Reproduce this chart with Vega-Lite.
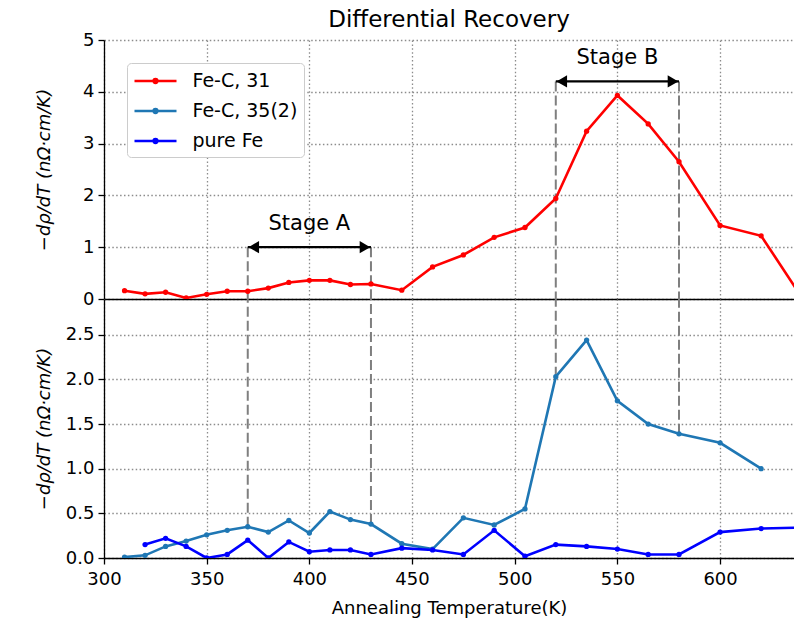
{
  "$schema": "https://vega.github.io/schema/vega-lite/v6.json",
  "autosize": {"type": "none"},
  "padding": {"left": 104, "top": 40, "right": 690, "bottom": 583},
  "bounds": "flush",
  "config": {
    "font": "DejaVu Sans",
    "view": {"stroke": null},
    "axis": {
      "domainColor": "black", "domainWidth": 1.3,
      "tickColor": "black", "tickWidth": 1.3, "tickSize": 6,
      "labelFontSize": 18, "labelColor": "black", "labelPadding": 4, "labelFlush": false,
      "titleFontSize": 18, "titleColor": "black", "titleFontWeight": "normal",
      "gridColor": "#8c8c8c", "gridDash": [1.5, 2.4], "gridWidth": 1.3, "gridOpacity": 1
    },
    "title": {"fontSize": 23, "fontWeight": "normal", "color": "black", "font": "DejaVu Sans"}
  },
  "datasets": {
    "curves": [
      {"series": "Fe-C, 31", "T": 310, "v": 0.16},
      {"series": "Fe-C, 31", "T": 320, "v": 0.10},
      {"series": "Fe-C, 31", "T": 330, "v": 0.13},
      {"series": "Fe-C, 31", "T": 340, "v": 0.02},
      {"series": "Fe-C, 31", "T": 350, "v": 0.09},
      {"series": "Fe-C, 31", "T": 360, "v": 0.15},
      {"series": "Fe-C, 31", "T": 370, "v": 0.15},
      {"series": "Fe-C, 31", "T": 380, "v": 0.21},
      {"series": "Fe-C, 31", "T": 390, "v": 0.32},
      {"series": "Fe-C, 31", "T": 400, "v": 0.36},
      {"series": "Fe-C, 31", "T": 410, "v": 0.36},
      {"series": "Fe-C, 31", "T": 420, "v": 0.28},
      {"series": "Fe-C, 31", "T": 430, "v": 0.29},
      {"series": "Fe-C, 31", "T": 445, "v": 0.17},
      {"series": "Fe-C, 31", "T": 460, "v": 0.62},
      {"series": "Fe-C, 31", "T": 475, "v": 0.85},
      {"series": "Fe-C, 31", "T": 490, "v": 1.19},
      {"series": "Fe-C, 31", "T": 505, "v": 1.38},
      {"series": "Fe-C, 31", "T": 520, "v": 1.94},
      {"series": "Fe-C, 31", "T": 535, "v": 3.24},
      {"series": "Fe-C, 31", "T": 550, "v": 3.93},
      {"series": "Fe-C, 31", "T": 565, "v": 3.38},
      {"series": "Fe-C, 31", "T": 580, "v": 2.65},
      {"series": "Fe-C, 31", "T": 600, "v": 1.42},
      {"series": "Fe-C, 31", "T": 620, "v": 1.22},
      {"series": "Fe-C, 31", "T": 640, "v": 0.02},
      {"series": "Fe-C, 35(2)", "T": 310, "v": 0.01},
      {"series": "Fe-C, 35(2)", "T": 320, "v": 0.03},
      {"series": "Fe-C, 35(2)", "T": 330, "v": 0.13},
      {"series": "Fe-C, 35(2)", "T": 340, "v": 0.19},
      {"series": "Fe-C, 35(2)", "T": 350, "v": 0.26},
      {"series": "Fe-C, 35(2)", "T": 360, "v": 0.31},
      {"series": "Fe-C, 35(2)", "T": 370, "v": 0.35},
      {"series": "Fe-C, 35(2)", "T": 380, "v": 0.29},
      {"series": "Fe-C, 35(2)", "T": 390, "v": 0.42},
      {"series": "Fe-C, 35(2)", "T": 400, "v": 0.28},
      {"series": "Fe-C, 35(2)", "T": 410, "v": 0.52},
      {"series": "Fe-C, 35(2)", "T": 420, "v": 0.43},
      {"series": "Fe-C, 35(2)", "T": 430, "v": 0.38},
      {"series": "Fe-C, 35(2)", "T": 445, "v": 0.16},
      {"series": "Fe-C, 35(2)", "T": 460, "v": 0.10},
      {"series": "Fe-C, 35(2)", "T": 475, "v": 0.45},
      {"series": "Fe-C, 35(2)", "T": 490, "v": 0.37},
      {"series": "Fe-C, 35(2)", "T": 505, "v": 0.55},
      {"series": "Fe-C, 35(2)", "T": 520, "v": 2.03},
      {"series": "Fe-C, 35(2)", "T": 535, "v": 2.44},
      {"series": "Fe-C, 35(2)", "T": 550, "v": 1.76},
      {"series": "Fe-C, 35(2)", "T": 565, "v": 1.50},
      {"series": "Fe-C, 35(2)", "T": 580, "v": 1.39},
      {"series": "Fe-C, 35(2)", "T": 600, "v": 1.29},
      {"series": "Fe-C, 35(2)", "T": 620, "v": 1.00},
      {"series": "pure Fe", "T": 320, "v": 0.15},
      {"series": "pure Fe", "T": 330, "v": 0.22},
      {"series": "pure Fe", "T": 340, "v": 0.13},
      {"series": "pure Fe", "T": 350, "v": 0.00},
      {"series": "pure Fe", "T": 360, "v": 0.04},
      {"series": "pure Fe", "T": 370, "v": 0.20},
      {"series": "pure Fe", "T": 380, "v": 0.00},
      {"series": "pure Fe", "T": 390, "v": 0.18},
      {"series": "pure Fe", "T": 400, "v": 0.07},
      {"series": "pure Fe", "T": 410, "v": 0.09},
      {"series": "pure Fe", "T": 420, "v": 0.09},
      {"series": "pure Fe", "T": 430, "v": 0.04},
      {"series": "pure Fe", "T": 445, "v": 0.11},
      {"series": "pure Fe", "T": 460, "v": 0.09},
      {"series": "pure Fe", "T": 475, "v": 0.04},
      {"series": "pure Fe", "T": 490, "v": 0.31},
      {"series": "pure Fe", "T": 505, "v": 0.02},
      {"series": "pure Fe", "T": 520, "v": 0.15},
      {"series": "pure Fe", "T": 535, "v": 0.13},
      {"series": "pure Fe", "T": 550, "v": 0.10},
      {"series": "pure Fe", "T": 565, "v": 0.04},
      {"series": "pure Fe", "T": 580, "v": 0.04},
      {"series": "pure Fe", "T": 600, "v": 0.29},
      {"series": "pure Fe", "T": 620, "v": 0.33},
      {"series": "pure Fe", "T": 640, "v": 0.34}
    ],
    "stages": [
      {"stage": "Stage A", "from": 370, "to": 430, "mid": 400, "level": 1.0, "labelLevel": 1.45},
      {"stage": "Stage B", "from": 520, "to": 580, "mid": 550, "level": 4.2, "labelLevel": 4.65}
    ],
    "connectors": [
      {"T": 370, "upper": 1.0, "lower": 0.35},
      {"T": 430, "upper": 1.0, "lower": 0.38},
      {"T": 520, "upper": 4.2, "lower": 2.03},
      {"T": 580, "upper": 4.2, "lower": 1.39}
    ]
  },
  "spacing": 0,
  "resolve": {"scale": {"x": "shared", "y": "independent", "color": "shared"}},
  "vconcat": [
    {
      "width": 690,
      "height": 259,
      "title": {"text": "Differential Recovery", "anchor": "middle", "frame": "group", "offset": -1},
      "layer": [
        {
          "data": {"name": "connectors"},
          "mark": {"type": "rule", "color": "#7f7f7f", "strokeWidth": 2, "strokeDash": [10, 4]},
          "encoding": {
            "x": {"field": "T", "type": "quantitative",
                  "scale": {"domain": [300, 636], "nice": false, "zero": false},
                  "axis": {"values": [300, 350, 400, 450, 500, 550, 600], "labels": false, "ticks": false, "title": null, "grid": true}},
            "y": {"field": "upper", "type": "quantitative",
                  "scale": {"domain": [0, 5], "nice": false, "zero": false},
                  "axis": {"values": [0, 1, 2, 3, 4, 5], "format": "d", "grid": true,
                           "title": "−dρ/dT  (nΩ·cm/K)", "titleFontStyle": "italic",
                           "titleX": -60, "titleY": 129.5, "titleAngle": -90,
                           "titleAlign": "center", "titleBaseline": "middle"}},
            "y2": {"datum": 0}
          }
        },
        {
          "mark": {"type": "rule", "color": "black", "strokeWidth": 1.3},
          "encoding": {"y": {"datum": 5}}
        },
        {
          "data": {"name": "curves"},
          "transform": [{"filter": "datum.series === 'Fe-C, 31'"}],
          "mark": {"type": "line", "strokeWidth": 2.6, "clip": true,
                   "point": {"filled": true, "size": 28}},
          "encoding": {
            "x": {"field": "T", "type": "quantitative"},
            "y": {"field": "v", "type": "quantitative"},
            "color": {"field": "series", "type": "nominal",
                      "scale": {"domain": ["Fe-C, 31", "Fe-C, 35(2)", "pure Fe"], "range": ["#ff0000", "#1f77b4", "#0000ff"]},
                      "legend": {"orient": "none", "legendX": 23, "legendY": 23, "title": null,
                                 "fillColor": "white", "strokeColor": "#cccccc", "cornerRadius": 4, "padding": 6,
                                 "labelFontSize": 19, "labelColor": "black", "labelLimit": 300,
                                 "symbolType": "M-2,0H2M-0.18,0A0.18,0.18,0,1,0,0.18,0A0.18,0.18,0,1,0,-0.18,0",
                                 "symbolSize": 441, "symbolStrokeWidth": 2.5, "symbolOffset": 10.5,
                                 "labelOffset": 25, "rowPadding": 8}}
          }
        },
        {
          "data": {"name": "stages"},
          "mark": {"type": "rule", "color": "black", "strokeWidth": 2.2},
          "encoding": {
            "x": {"field": "from", "type": "quantitative"},
            "x2": {"field": "to"},
            "y": {"field": "level", "type": "quantitative"}
          }
        },
        {
          "data": {"name": "stages"},
          "mark": {"type": "point", "shape": "triangle-left", "filled": true, "color": "black", "opacity": 1, "size": 150, "xOffset": 6},
          "encoding": {
            "x": {"field": "from", "type": "quantitative"},
            "y": {"field": "level", "type": "quantitative"}
          }
        },
        {
          "data": {"name": "stages"},
          "mark": {"type": "point", "shape": "triangle-right", "filled": true, "color": "black", "opacity": 1, "size": 150, "xOffset": -6},
          "encoding": {
            "x": {"field": "to", "type": "quantitative"},
            "y": {"field": "level", "type": "quantitative"}
          }
        },
        {
          "data": {"name": "stages"},
          "mark": {"type": "text", "fontSize": 21, "color": "black", "baseline": "middle", "align": "center"},
          "encoding": {
            "x": {"field": "mid", "type": "quantitative"},
            "y": {"field": "labelLevel", "type": "quantitative"},
            "text": {"field": "stage"}
          }
        }
      ]
    },
    {
      "width": 690,
      "height": 259,
      "layer": [
        {
          "data": {"name": "connectors"},
          "mark": {"type": "rule", "color": "#7f7f7f", "strokeWidth": 2, "strokeDash": [10, 4]},
          "encoding": {
            "x": {"field": "T", "type": "quantitative",
                  "scale": {"domain": [300, 636], "nice": false, "zero": false},
                  "axis": {"values": [300, 350, 400, 450, 500, 550, 600], "grid": true, "labelPadding": 6,
                           "title": "Annealing Temperature(K)", "titlePadding": 11}},
            "y": {"field": "lower", "type": "quantitative",
                  "scale": {"domain": [0, 2.9], "nice": false, "zero": false},
                  "axis": {"values": [0, 0.5, 1, 1.5, 2, 2.5], "format": ".1f", "grid": true,
                           "title": "−dρ/dT  (nΩ·cm/K)", "titleFontStyle": "italic",
                           "titleX": -60, "titleY": 129.5, "titleAngle": -90,
                           "titleAlign": "center", "titleBaseline": "middle"}},
            "y2": {"datum": 2.9}
          }
        },
        {
          "data": {"name": "curves"},
          "transform": [{"filter": "datum.series !== 'Fe-C, 31'"}],
          "mark": {"type": "line", "strokeWidth": 2.6, "clip": true,
                   "point": {"filled": true, "size": 28}},
          "encoding": {
            "x": {"field": "T", "type": "quantitative"},
            "y": {"field": "v", "type": "quantitative"},
            "color": {"field": "series", "type": "nominal",
                      "scale": {"domain": ["Fe-C, 31", "Fe-C, 35(2)", "pure Fe"], "range": ["#ff0000", "#1f77b4", "#0000ff"]},
                      "legend": {"orient": "none", "legendX": 23, "legendY": 23, "title": null,
                                 "fillColor": "white", "strokeColor": "#cccccc", "cornerRadius": 4, "padding": 6,
                                 "labelFontSize": 19, "labelColor": "black", "labelLimit": 300,
                                 "symbolType": "M-2,0H2M-0.18,0A0.18,0.18,0,1,0,0.18,0A0.18,0.18,0,1,0,-0.18,0",
                                 "symbolSize": 441, "symbolStrokeWidth": 2.5, "symbolOffset": 10.5,
                                 "labelOffset": 25, "rowPadding": 8}}
          }
        }
      ]
    }
  ]
}
